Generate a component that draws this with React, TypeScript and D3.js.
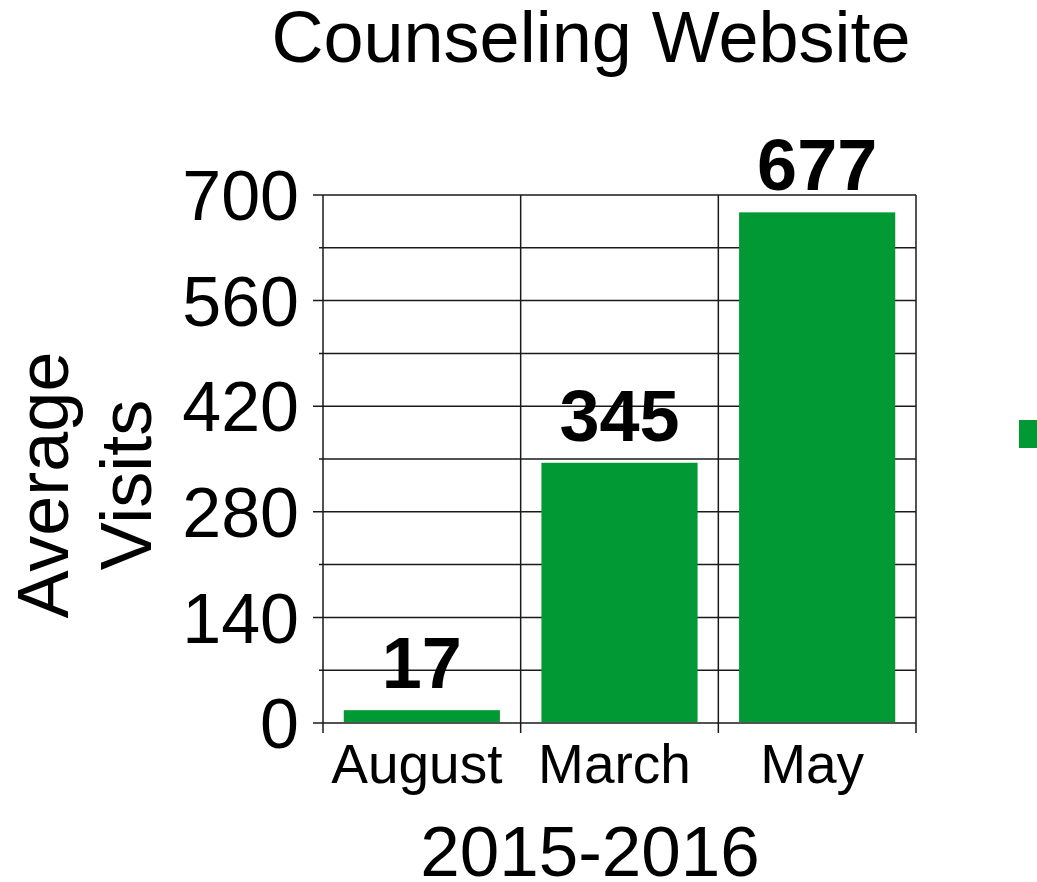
import { useEffect, useRef } from "react";
import * as d3 from "d3";

const categories = ["August", "March", "May"];
const visits = [17, 345, 677];
const yTicks = [0, 140, 280, 420, 560, 700];
const gridValues = [0, 70, 140, 210, 280, 350, 420, 490, 560, 630, 700];

const title = "Counseling Website";
const xTitle = "2015-2016";
const yTitle = ["Average", "Visits"];

export default function App() {
  const chartRef = useRef<SVGSVGElement | null>(null);

  useEffect(() => {
    const width = 1037;
    const height = 882;
    const plot = { left: 323, right: 916, top: 195, bottom: 723 };
    const font = "Liberation Sans, Arial, sans-serif";
    const lineColor = "#1a1a1a";
    const green = "#009933";

    const svg = d3
      .select(chartRef.current)
      .attr("width", width)
      .attr("height", height)
      .style("font-family", font);

    svg.selectAll("*").remove();

    // Scales
    const cellX = d3
      .scaleBand<string>()
      .domain(categories)
      .range([plot.left, plot.right])
      .padding(0);

    const xScale = d3
      .scaleBand<string>()
      .domain(categories)
      .range([plot.left, plot.right])
      .paddingInner(0.21)
      .paddingOuter(0.105);

    const yScale = d3.scaleLinear().domain([0, 700]).range([plot.bottom, plot.top]);

    // Horizontal grid lines (major ticks extend further left)
    svg
      .append("g")
      .selectAll("line")
      .data(gridValues)
      .enter()
      .append("line")
      .attr("x1", (d) => (d % 140 === 0 ? plot.left - 10 : plot.left - 4))
      .attr("x2", plot.right)
      .attr("y1", (d) => yScale(d))
      .attr("y2", (d) => yScale(d))
      .attr("stroke", lineColor)
      .attr("stroke-width", 1.5);

    // Vertical lines at category boundaries
    const boundaries = categories.map((c) => cellX(c) as number).concat([plot.right]);
    svg
      .append("g")
      .selectAll("line")
      .data(boundaries)
      .enter()
      .append("line")
      .attr("x1", (d) => d)
      .attr("x2", (d) => d)
      .attr("y1", plot.top)
      .attr("y2", plot.bottom + 10)
      .attr("stroke", lineColor)
      .attr("stroke-width", 1.5);

    // Bars
    svg
      .append("g")
      .selectAll("rect")
      .data(visits)
      .enter()
      .append("rect")
      .attr("x", (d, i) => xScale(categories[i]) as number)
      .attr("y", (d) => yScale(d))
      .attr("width", xScale.bandwidth())
      .attr("height", (d) => plot.bottom - yScale(d) - 1)
      .attr("fill", green);

    // Value labels
    svg
      .append("g")
      .selectAll("text")
      .data(visits)
      .enter()
      .append("text")
      .attr("x", (d, i) => (cellX(categories[i]) as number) + cellX.bandwidth() / 2)
      .attr("y", (d) => yScale(d) - 22)
      .attr("text-anchor", "middle")
      .attr("font-size", 72)
      .attr("font-weight", "bold")
      .text((d) => d);

    // Y tick labels
    svg
      .append("g")
      .selectAll("text")
      .data(yTicks)
      .enter()
      .append("text")
      .attr("x", 299)
      .attr("y", (d) => yScale(d))
      .attr("dy", "0.36em")
      .attr("text-anchor", "end")
      .attr("font-size", 70)
      .text((d) => d);

    // X tick labels
    svg
      .append("g")
      .selectAll("text")
      .data(categories)
      .enter()
      .append("text")
      .attr("x", (d) => (cellX(d) as number) + cellX.bandwidth() / 2 - 5)
      .attr("y", 783)
      .attr("text-anchor", "middle")
      .attr("font-size", 55)
      .text((d) => d);

    // Titles
    svg
      .append("text")
      .attr("x", 591)
      .attr("y", 62)
      .attr("text-anchor", "middle")
      .attr("font-size", 72)
      .text(title);

    svg
      .append("text")
      .attr("x", 590)
      .attr("y", 876)
      .attr("text-anchor", "middle")
      .attr("font-size", 71)
      .text(xTitle);

    svg
      .append("g")
      .attr("transform", "translate(0,485) rotate(-90)")
      .selectAll("text")
      .data(yTitle)
      .enter()
      .append("text")
      .attr("x", 0)
      .attr("y", (d, i) => 68 + i * 83)
      .attr("text-anchor", "middle")
      .attr("font-size", 72)
      .text((d) => d);

    // Legend marker (cut off at the right edge)
    svg
      .append("rect")
      .attr("x", 1019)
      .attr("y", 420)
      .attr("width", 28)
      .attr("height", 28)
      .attr("fill", green);
  }, []);

  return (
    <svg
      ref={chartRef}
      style={{ position: "absolute", left: 0, top: 0, background: "#fff" }}
    />
  );
}
